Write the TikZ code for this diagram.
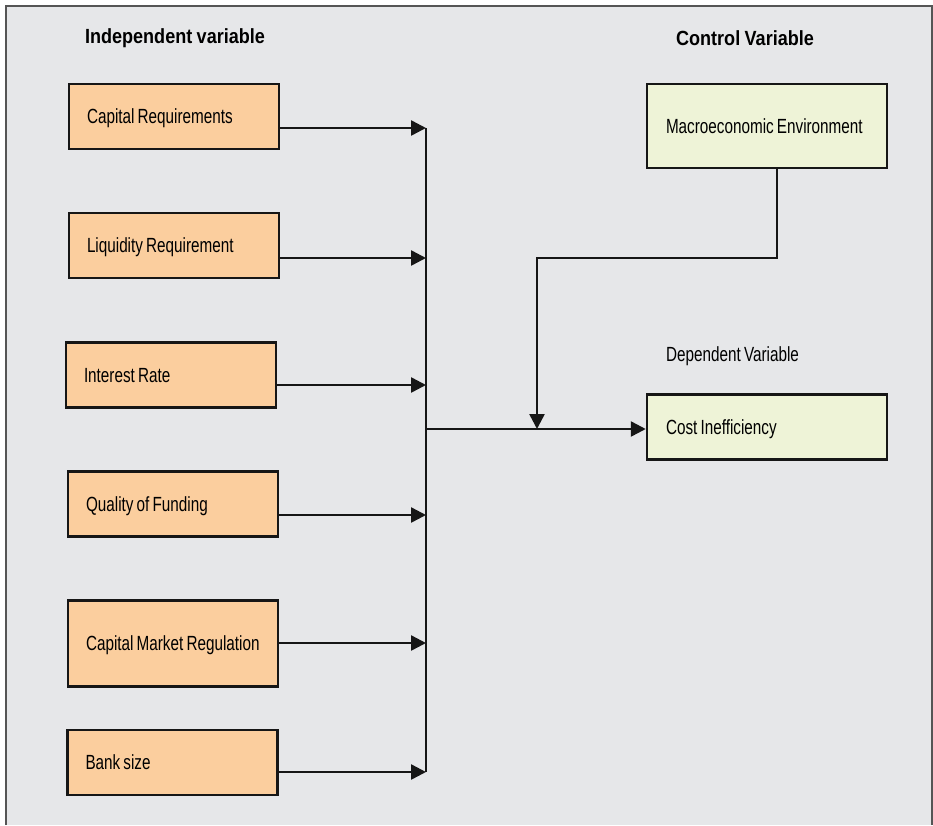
\documentclass[tikz,border=0pt]{standalone}
\usepackage{fontspec}
\setmainfont{Liberation Sans}[FakeStretch=0.745,WordSpace=0.745]
\newfontfamily\titlefont{Liberation Sans}[FakeStretch=0.88,WordSpace=0.88]
\usetikzlibrary{arrows.meta,calc}
\definecolor{bg}{HTML}{E6E7E9}
\definecolor{frame}{HTML}{555555}
\definecolor{orangefill}{HTML}{FBCE9E}
\definecolor{greenfill}{HTML}{EEF3D7}
\definecolor{ink}{HTML}{161616}
\newcommand\lefttext[2]{\makebox[#1][l]{#2}}
\begin{document}
\begin{tikzpicture}[x=1pt,y=-1pt,
  boxtext/.style={font=\fontsize{20.5}{23}\selectfont, text depth=0pt},
  indep/.style={boxtext, draw=ink, line width=2.5pt, fill=orangefill, minimum width=210pt, minimum height=65pt, inner xsep=18pt},
  ctrl/.style={boxtext, draw=ink, line width=2.5pt, fill=greenfill, minimum width=240pt, minimum height=65pt, inner xsep=19pt},
  ttl/.style={font=\titlefont\bfseries\fontsize{20.5}{23}\selectfont},
  lbl/.style={font=\fontsize{20.5}{23}\selectfont, inner sep=0pt},
  conn/.style={draw=ink, line width=2.5pt},
  arr/.style={conn, -{Triangle[length=15pt,width=15pt]}}]
\useasboundingbox (0,0) rectangle (933,825);
\fill[white] (0,0) rectangle (933,825);
\fill[bg] (6,6) rectangle (932,825);
\draw[frame, line width=1.5pt] (6,825) -- (6,6) -- (932,6) -- (932,825);

\node[ttl] (t1) at (175,38) {Independent variable};
\node[ttl] (t2) at (745,38) {Control Variable};

\node[indep] (cap) at (174,116.5) {\lefttext{174pt}{Capital Requirements}};
\node[indep] (liq) at (174,245.5) {\lefttext{174pt}{Liquidity Requirement}};
\node[indep] (ir) at (171,375) {\lefttext{174pt}{Interest Rate}};
\node[indep] (qf) at (173,504) {\lefttext{174pt}{Quality of Funding}};
\node[indep, minimum height=86pt] (cmr) at (173,643.5) {\lefttext{174pt}{Capital Market Regulation}};
\node[indep] (bs) at (172.5,762.5) {\lefttext{174pt}{Bank size}};

\node[ctrl, minimum height=84pt] (mac) at (767,126) {\lefttext{202pt}{Macroeconomic Environment}};
\node[lbl, anchor=west] (dep) at (666,356) {Dependent Variable};
\node[ctrl] (ci) at (767,427) {\lefttext{202pt}{Cost Inefficiency}};

\coordinate (b1) at (426,128);
\coordinate (b2) at (426,258);
\coordinate (b3) at (426,385);
\coordinate (b4) at (426,515);
\coordinate (b5) at (426,643);
\coordinate (b6) at (426,772);
\coordinate (bo) at (426,429);
\coordinate (m1) at (777,258);
\coordinate (m2) at (537,258);
\coordinate (m3) at (537,429);

\draw[conn] (b1) -- (b6);
\draw[arr] (cap.east |- b1) -- (b1);
\draw[arr] (liq.east |- b2) -- (b2);
\draw[arr] (ir.east |- b3) -- (b3);
\draw[arr] (qf.east |- b4) -- (b4);
\draw[arr] (cmr.east |- b5) -- (b5);
\draw[arr] (bs.east |- b6) -- (b6);
\draw[arr] (bo) -- (ci.west |- bo);
\draw[arr, line join=miter] (mac.south -| m1) -- (m1) -- (m2) -- (m3);
\end{tikzpicture}
\end{document}
